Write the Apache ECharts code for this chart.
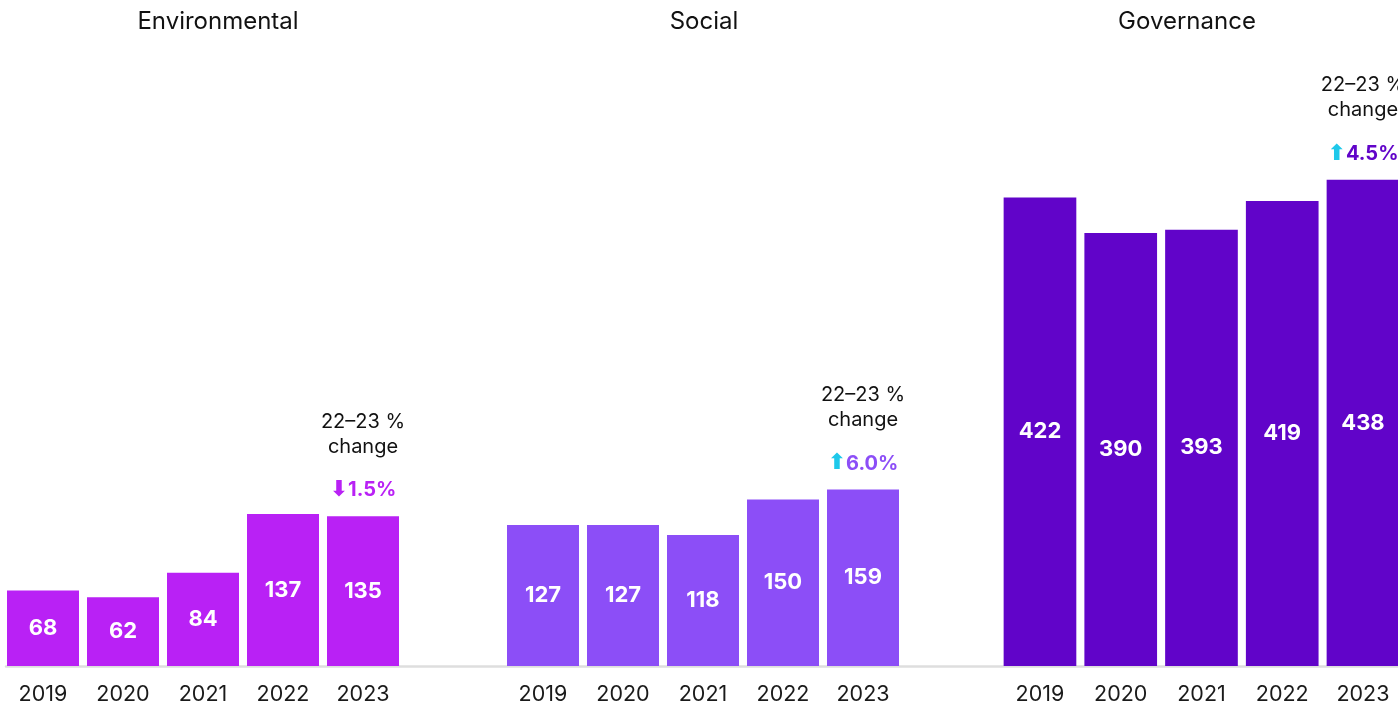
<!DOCTYPE html>
<html>
<head>
<meta charset="utf-8">
<script src="https://cdn.jsdelivr.net/npm/echarts@6/dist/echarts.min.js"></script>
<style>html,body{margin:0;padding:0;background:#fff;}#c{width:1398px;height:709px;}</style>
</head>
<body>
<div id="c"></div>
<script>
const years = ['2019', '2020', '2021', '2022', '2023'];
const panelTitles = ['Environmental', 'Social', 'Governance'];
const environmental = [68, 62, 84, 137, 135];
const social = [127, 127, 118, 150, 159];
const governance = [422, 390, 393, 419, 438];
const changePct = ['1.5%', '6.0%', '4.5%'];
const changeDir = ['down', 'up', 'up'];
const colors = ['#B921F5', '#8C4EF7', '#6104C9'];

const FONT = 'Inter, "Noto Sans", sans-serif';
const allValues = [environmental, social, governance];
const grids = [
  { left: 3, width: 400, top: 111, bottom: 43, outerBoundsMode: 'none' },
  { left: 503, width: 400, top: 111, bottom: 43, outerBoundsMode: 'none' },
  { left: 999.6, width: 403.75, top: 111, bottom: 43, outerBoundsMode: 'none' },
  { left: 6, right: 0, top: 111, bottom: 43, outerBoundsMode: 'none' }
];
const xAxes = [], yAxes = [], series = [];
for (let i = 0; i < 3; i++) {
  xAxes.push({
    type: 'category', gridIndex: i, data: years,
    axisLine: { show: false }, axisTick: { show: false },
    axisLabel: { color: '#1a1a1a', fontSize: 21.5, fontFamily: FONT, margin: 18 }
  });
  yAxes.push({ type: 'value', gridIndex: i, min: 0, max: 500, show: false });
  series.push({
    type: 'bar', xAxisIndex: i, yAxisIndex: i, data: allValues[i],
    barCategoryGap: '10%', itemStyle: { color: colors[i] },
    label: { show: true, position: 'inside', color: '#fff', fontSize: 22, fontWeight: 'bold', fontFamily: FONT }
  });
  const arrow = changeDir[i] === 'up' ? '⬆' : '⬇';
  const arrowColor = changeDir[i] === 'up' ? '#1EC8EA' : colors[i];
  series.push({
    type: 'bar', xAxisIndex: i, yAxisIndex: i, data: allValues[i],
    barCategoryGap: '10%', barGap: '-100%', itemStyle: { color: 'transparent' },
    silent: true, z: 5,
    label: {
      show: true, position: 'top', distance: 14,
      formatter: p => p.dataIndex === years.length - 1
        ? '{a|22–23 %}\n{a|change}\n{g| }\n{ar|' + arrow + '}{b|' + changePct[i] + '}' : '',
      rich: {
        a: { fontSize: 20, lineHeight: 25, color: '#111', fontFamily: FONT, align: 'center' },
        g: { fontSize: 10, lineHeight: 19 },
        ar: { fontSize: 22, lineHeight: 24, color: arrowColor, fontWeight: 'bold', fontFamily: '"DejaVu Sans"' },
        b: { fontSize: 20, lineHeight: 24, color: colors[i], fontWeight: 'bold', fontFamily: FONT }
      }
    }
  });
}
xAxes.push({
  type: 'value', gridIndex: 3, min: 0, max: 1,
  axisLine: { show: true, onZero: false, lineStyle: { color: '#DEDEDE', width: 2.5 } },
  axisTick: { show: false }, axisLabel: { show: false }, splitLine: { show: false }
});
yAxes.push({ type: 'value', gridIndex: 3, min: 0, max: 1, show: false });

const titleX = [218, 704, 1187];
const chart = echarts.init(document.getElementById('c'), null, { renderer: 'canvas' });
chart.setOption({
  animation: false,
  grid: grids,
  xAxis: xAxes,
  yAxis: yAxes,
  series: series,
  graphic: panelTitles.map((t, i) => ({
    type: 'text', x: titleX[i], y: 22,
    style: { text: t, textAlign: 'center', textVerticalAlign: 'middle', fontSize: 24, fontFamily: FONT, fill: '#111' }
  }))
});
</script>
</body>
</html>
